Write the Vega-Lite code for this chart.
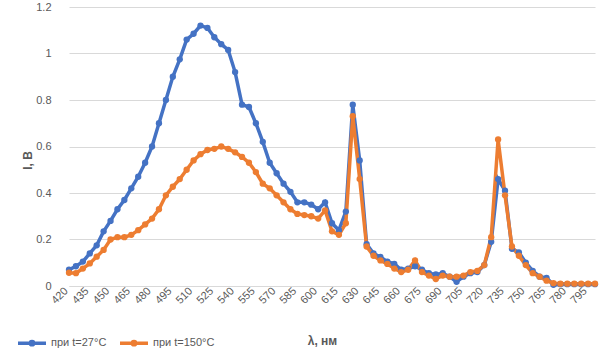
{
  "$schema": "https://vega.github.io/schema/vega-lite/v6.json",
  "autosize": "none",
  "width": 526,
  "height": 279,
  "padding": {"left": 69, "top": 7, "right": 12, "bottom": 75},
  "background": "white",
  "config": {
    "view": {"stroke": null},
    "font": "Liberation Sans",
    "axis": {"labelColor": "#595959", "titleColor": "#595959", "labelFontSize": 11, "labelFont": "Liberation Sans", "titleFont": "Liberation Sans"}
  },
  "data": {
    "values": [
      {"wl": 420, "t27": 0.07, "t150": 0.057},
      {"wl": 425, "t27": 0.085, "t150": 0.055},
      {"wl": 430, "t27": 0.105, "t150": 0.075},
      {"wl": 435, "t27": 0.14, "t150": 0.097},
      {"wl": 440, "t27": 0.175, "t150": 0.126},
      {"wl": 445, "t27": 0.235, "t150": 0.155},
      {"wl": 450, "t27": 0.28, "t150": 0.2},
      {"wl": 455, "t27": 0.33, "t150": 0.21},
      {"wl": 460, "t27": 0.37, "t150": 0.21},
      {"wl": 465, "t27": 0.42, "t150": 0.22},
      {"wl": 470, "t27": 0.47, "t150": 0.24},
      {"wl": 475, "t27": 0.53, "t150": 0.265},
      {"wl": 480, "t27": 0.6, "t150": 0.29},
      {"wl": 485, "t27": 0.7, "t150": 0.33},
      {"wl": 490, "t27": 0.8, "t150": 0.39},
      {"wl": 495, "t27": 0.9, "t150": 0.427},
      {"wl": 500, "t27": 0.975, "t150": 0.46},
      {"wl": 505, "t27": 1.06, "t150": 0.5},
      {"wl": 510, "t27": 1.085, "t150": 0.54},
      {"wl": 515, "t27": 1.12, "t150": 0.567},
      {"wl": 520, "t27": 1.11, "t150": 0.585},
      {"wl": 525, "t27": 1.07, "t150": 0.59},
      {"wl": 530, "t27": 1.04, "t150": 0.6},
      {"wl": 535, "t27": 1.015, "t150": 0.59},
      {"wl": 540, "t27": 0.92, "t150": 0.575},
      {"wl": 545, "t27": 0.78, "t150": 0.555},
      {"wl": 550, "t27": 0.77, "t150": 0.53},
      {"wl": 555, "t27": 0.7, "t150": 0.49},
      {"wl": 560, "t27": 0.62, "t150": 0.44},
      {"wl": 565, "t27": 0.53, "t150": 0.42},
      {"wl": 570, "t27": 0.485, "t150": 0.39},
      {"wl": 575, "t27": 0.44, "t150": 0.36},
      {"wl": 580, "t27": 0.405, "t150": 0.33},
      {"wl": 585, "t27": 0.36, "t150": 0.31},
      {"wl": 590, "t27": 0.36, "t150": 0.305},
      {"wl": 595, "t27": 0.35, "t150": 0.3},
      {"wl": 600, "t27": 0.33, "t150": 0.29},
      {"wl": 605, "t27": 0.36, "t150": 0.325},
      {"wl": 610, "t27": 0.27, "t150": 0.235},
      {"wl": 615, "t27": 0.24, "t150": 0.22},
      {"wl": 620, "t27": 0.32, "t150": 0.27},
      {"wl": 625, "t27": 0.78, "t150": 0.73},
      {"wl": 630, "t27": 0.54, "t150": 0.46},
      {"wl": 635, "t27": 0.18, "t150": 0.17},
      {"wl": 640, "t27": 0.14, "t150": 0.13},
      {"wl": 645, "t27": 0.125, "t150": 0.11},
      {"wl": 650, "t27": 0.105, "t150": 0.095},
      {"wl": 655, "t27": 0.095, "t150": 0.075},
      {"wl": 660, "t27": 0.07, "t150": 0.06},
      {"wl": 665, "t27": 0.075, "t150": 0.07},
      {"wl": 670, "t27": 0.085, "t150": 0.11},
      {"wl": 675, "t27": 0.07, "t150": 0.06},
      {"wl": 680, "t27": 0.055, "t150": 0.045},
      {"wl": 685, "t27": 0.05, "t150": 0.03},
      {"wl": 690, "t27": 0.055, "t150": 0.045},
      {"wl": 695, "t27": 0.04, "t150": 0.04},
      {"wl": 700, "t27": 0.018, "t150": 0.04},
      {"wl": 705, "t27": 0.04, "t150": 0.045},
      {"wl": 710, "t27": 0.055, "t150": 0.06},
      {"wl": 715, "t27": 0.06, "t150": 0.065},
      {"wl": 720, "t27": 0.09, "t150": 0.09},
      {"wl": 725, "t27": 0.19, "t150": 0.21},
      {"wl": 730, "t27": 0.46, "t150": 0.63},
      {"wl": 735, "t27": 0.41, "t150": 0.39},
      {"wl": 740, "t27": 0.16, "t150": 0.17},
      {"wl": 745, "t27": 0.145, "t150": 0.13},
      {"wl": 750, "t27": 0.1, "t150": 0.09},
      {"wl": 755, "t27": 0.065, "t150": 0.055},
      {"wl": 760, "t27": 0.04, "t150": 0.04},
      {"wl": 765, "t27": 0.035, "t150": 0.023},
      {"wl": 770, "t27": 0.005, "t150": 0.012},
      {"wl": 775, "t27": 0.008, "t150": 0.01},
      {"wl": 780, "t27": 0.008, "t150": 0.01},
      {"wl": 785, "t27": 0.008, "t150": 0.01},
      {"wl": 790, "t27": 0.008, "t150": 0.01},
      {"wl": 795, "t27": 0.008, "t150": 0.01},
      {"wl": 800, "t27": 0.008, "t150": 0.01}
    ]
  },
  "transform": [{"fold": ["t27", "t150"], "as": ["series", "I"]}],
  "mark": {"type": "line", "strokeWidth": 3.5, "point": {"filled": true, "size": 40}},
  "encoding": {
    "x": {
      "field": "wl", "type": "quantitative",
      "scale": {"domain": [420, 800], "nice": false, "zero": false},
      "axis": {
        "values": [420,435,450,465,480,495,510,525,540,555,570,585,600,615,630,645,660,675,690,705,720,735,750,765,780,795],
        "labelAngle": -45, "labelAlign": "right", "labelBaseline": "middle", "labelPadding": 3, "labelOffset": -3,
        "ticks": false, "grid": false,
        "domainColor": "#d9d9d9", "labelFlush": false, "labelOverlap": false,
        "title": "λ, нм", "titleFontSize": 12, "titleFontWeight": "bold",
        "titleX": 253, "titleY": 54, "titleAlign": "center", "titleBaseline": "middle"
      }
    },
    "y": {
      "field": "I", "type": "quantitative",
      "scale": {"domain": [0, 1.2], "nice": false},
      "axis": {
        "values": [0, 0.2, 0.4, 0.6, 0.8, 1, 1.2], "format": "~g",
        "ticks": false, "domain": false, "gridColor": "#d9d9d9", "labelPadding": 18,
        "title": "I, В", "titleFontSize": 12, "titleFontWeight": "bold",
        "titleAngle": -90, "titleX": -42, "titleY": 153, "titleAlign": "center", "titleBaseline": "middle"
      }
    },
    "color": {
      "field": "series", "type": "nominal",
      "scale": {"domain": ["t27", "t150"], "range": ["#4472C4", "#ED7D31"]},
      "legend": {
        "title": null, "orient": "none", "direction": "horizontal",
        "legendX": -53, "legendY": 320,
        "labelExpr": "datum.value == 't27' ? 'при t=27°C' : 'при t=150°C'",
        "labelColor": "#595959", "labelFontSize": 11, "labelFont": "Liberation Sans",
        "symbolType": "M-1,0L1,0M-0.12,0A0.12,0.12 0 1,1 0.12,0A0.12,0.12 0 1,1 -0.12,0",
        "symbolSize": 784, "symbolStrokeWidth": 3.5, "labelOffset": 3, "columnPadding": 6
      }
    }
  }
}
